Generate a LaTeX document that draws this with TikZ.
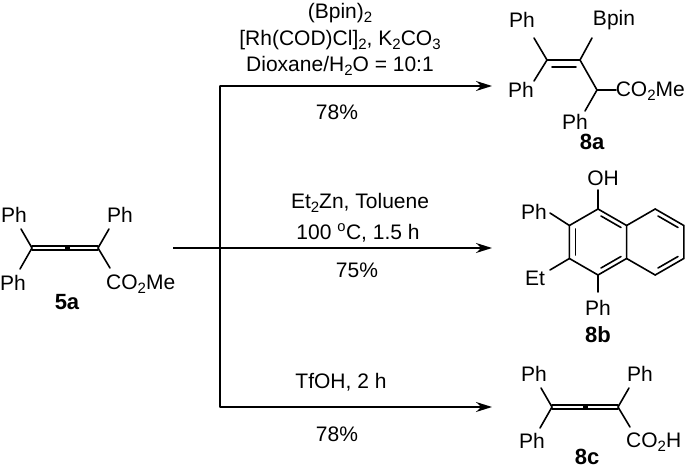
\documentclass[tikz,border=0pt]{standalone}
\usepackage{fontspec}
\setmainfont{Liberation Sans}
\usetikzlibrary{arrows.meta}
\newcommand\sbs[1]{\raisebox{-0.35ex}{\fontsize{15}{15}\selectfont #1}}
\begin{document}
\begin{tikzpicture}[x=1pt,y=-1pt,
  every node/.style={font=\fontsize{21}{24}\selectfont, inner sep=0pt},
  bond/.style={line width=1.6pt, line cap=round},
  rxn/.style={line width=1.6pt,-{Stealth[length=16pt,width=10pt]}},
  lab/.style={font=\fontsize{22}{24}\selectfont\bfseries}]
\useasboundingbox (0,0) rectangle (685,470);
% reaction arrows
\coordinate (s) at (173,248);
\coordinate (jt) at (220,86);
\coordinate (jb) at (220,407);
\coordinate (et) at (492,86);
\coordinate (em) at (492,248);
\coordinate (eb) at (492,407);
\draw[bond] (jt) -- (jb);
\draw[rxn] (jt) -- (et);
\draw[rxn] (s) -- (em);
\draw[rxn] (jb) -- (eb);
% conditions
\node (c1) at (340,13) {(Bpin)\sbs{2}};
\node (c2) at (340,40) {[Rh(COD)Cl]\sbs{2}, K\sbs{2}CO\sbs{3}};
\node (c3) at (340,66) {Dioxane/H\sbs{2}O = 10:1};
\node (c4) at (337,112) {78\%};
\node (m1) at (360,203) {Et\sbs{2}Zn, Toluene};
\node (m2) at (358,233) {100 $^{\mathrm{o}}$C, 1.5 h};
\node (m3) at (357,270) {75\%};
\node (b1) at (341,382) {TfOH, 2 h};
\node (b2) at (337,434) {78\%};
% 5a
\coordinate (aL) at (32,248); \coordinate (aR) at (98,248);
\draw[bond] ([yshift=-2.2]aL) -- ([yshift=-2.2]aR);
\draw[bond] ([yshift=2.2]aL) -- ([yshift=2.2]aR);
\fill (65,245.5) rectangle (70,250.5);
\draw[bond] (aL) -- (21,229); \draw[bond] (aL) -- (20,269);
\draw[bond] (aR) -- (109,229); \draw[bond] (aR) -- (110,268);
\node (ap1) at (14,215) {Ph};
\node (ap2) at (13,283) {Ph};
\node (ap3) at (120,215) {Ph};
\node[anchor=west] (ae) at (106,284) {CO\sbs{2}Me};
\node[lab] (l5a) at (67,302) {5a};
% 8a
\coordinate (d1) at (547,60); \coordinate (d2) at (580,60); \coordinate (d3) at (597,90);
\draw[bond] (d1) -- (d2); \draw[bond] (552,67) -- (576,67);
\draw[bond] (d1) -- (534,38); \draw[bond] (d1) -- (534,81);
\draw[bond] (d2) -- (592,38); \draw[bond] (d2) -- (d3);
\draw[bond] (d3) -- (616,90); \draw[bond] (d3) -- (585,111);
\node (dp1) at (522,20) {Ph};
\node (dp2) at (521,90) {Ph};
\node (db) at (614,20) {Bpin};
\node[anchor=east] (de) at (685,91) {CO\sbs{2}Me};
\node (dp3) at (575,122) {Ph};
\node[lab] (l8a) at (592,142) {8a};
% 8b
\foreach \n/\x/\y in {n1/598/209, n2/569.4/225.5, n3/569.4/258.5, n4/598/275, n4a/626.6/258.5, n8a/626.6/225.5, n5/655.2/275, n6/683.8/258.5, n7/683.8/225.5, n8/655.2/209}
  \coordinate (\n) at (\x,\y);
\draw[bond] (n1) -- (n2) -- (n3) -- (n4) -- (n4a) -- (n8a) -- cycle;
\draw[bond] (n8a) -- (n8) -- (n7) -- (n6) -- (n5) -- (n4a);
\draw[bond] (575.5,229) -- (575.5,255);
\draw[bond] (601,216) -- (621,227.5);
\draw[bond] (601,268) -- (621,256.5);
\draw[bond] (658,216) -- (678,227.5);
\draw[bond] (658,268) -- (678,256.5);
\draw[bond] (n1) -- (598,190);
\draw[bond] (n2) -- (550,213);
\draw[bond] (n3) -- (550,270);
\draw[bond] (n4) -- (598,292);
\node (oh) at (603,178) {OH};
\node (bp1) at (534,212) {Ph};
\node (bet) at (535,278) {Et};
\node (bp2) at (598,308) {Ph};
\node[lab] (l8b) at (598,335) {8b};
% 8c
\coordinate (cL) at (552,407); \coordinate (cR) at (618,407);
\draw[bond] ([yshift=-2.2]cL) -- ([yshift=-2.2]cR);
\draw[bond] ([yshift=2.2]cL) -- ([yshift=2.2]cR);
\fill (582.5,404.5) rectangle (587.5,409.5);
\draw[bond] (cL) -- (541,388); \draw[bond] (cL) -- (540,428);
\draw[bond] (cR) -- (629,388); \draw[bond] (cR) -- (630,427);
\node (cp1) at (534,374) {Ph};
\node (cp2) at (532,441) {Ph};
\node (cp3) at (640,374) {Ph};
\node[anchor=west] (ce) at (626,442) {CO\sbs{2}H};
\node[lab] (l8c) at (587,457) {8c};
\end{tikzpicture}
\end{document}
